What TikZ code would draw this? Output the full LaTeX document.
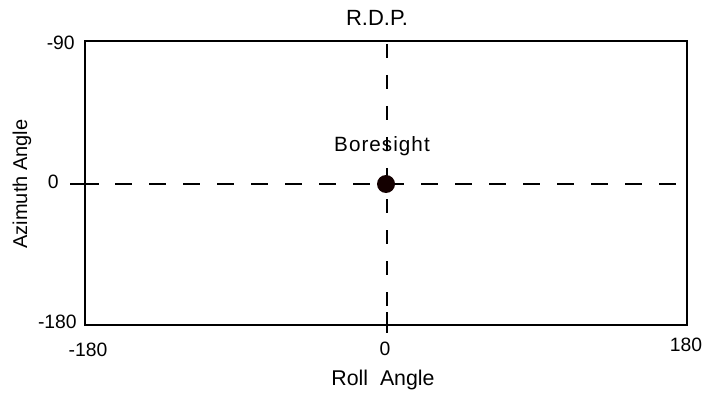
\documentclass[tikz,border=0pt]{standalone}
\usepackage{fontspec}
\setmainfont{Liberation Sans}
\usetikzlibrary{positioning}
\tikzset{
  axislabel/.style={font=\fontsize{16}{18}\selectfont,text=black,inner sep=0pt},
  ticklabel/.style={font=\fontsize{14.5}{16}\selectfont,text=black,inner sep=0pt},
  frame/.style={draw=black,line width=1.6pt},
  hguide/.style={draw=black,line width=1.6pt,dash pattern=on 12.75pt off 12.75pt},
  vguide/.style={draw=black,line width=0.8pt,dash pattern=on 10.5pt off 12.75pt},
  tick/.style={draw=black,line width=1.6pt},
  boresight/.style={circle,fill=black!92!red,inner sep=0pt,minimum size=13.5pt}
}
\begin{document}
\begin{tikzpicture}[x=0.75pt,y=-0.75pt]
\path[use as bounding box] (0,0) rectangle (705,395);
% plot area
\draw[frame] (85,41) rectangle (687,325);
\coordinate (hl) at (70,184); \coordinate (hr) at (683,184);
\coordinate (vt) at (387,44); \coordinate (vb) at (387,333);
\draw[hguide] (115,184)--(hr);
\draw[tick] (hl)--(99,184);
\draw[vguide] (vt)--(387,313);
\draw[tick,line width=1pt] (387,312)--(vb);
\node[boresight] (bs) at (386,184) {};
\node[axislabel,font=\fontsize{15.5}{17}\selectfont\addfontfeature{LetterSpace=5},above=14pt of bs,xshift=-3pt] (bstext) {Boresight};
% labels
\node[axislabel,font=\fontsize{16.5}{18}\selectfont] (title) at (377,18) {R.D.P.};
\node[ticklabel,anchor=east] (ym90) at (75,43) {-90};
\node[ticklabel,anchor=east] (y0) at (59,182) {0};
\node[ticklabel,anchor=east] (ym180) at (77,322) {-180};
\node[ticklabel] (xm180) at (88,350) {-180};
\node[ticklabel] (x0) at (385,349) {0};
\node[ticklabel] (x180) at (686,345) {180};
\node[axislabel] (xlab) at (383,380) {Roll\ \ Angle};
\node[axislabel,font=\fontsize{15}{17}\selectfont,rotate=90] (ylab) at (22,184) {Azimuth Angle};
\end{tikzpicture}
\end{document}
